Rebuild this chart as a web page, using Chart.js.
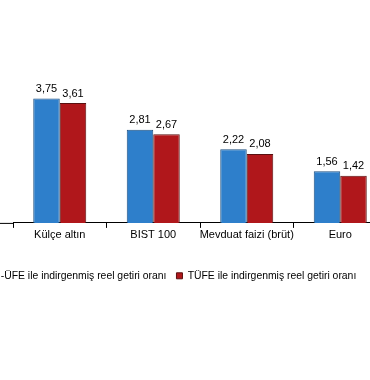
<!DOCTYPE html>
<html>
<head>
<meta charset="utf-8">
<script src="https://cdn.jsdelivr.net/npm/chart.js@4"></script>
<style>
  html, body { margin: 0; padding: 0; background: #fff; overflow: hidden; width: 370px; height: 380px; }
  #wrap { position: absolute; left: -51px; top: 0; width: 438px; height: 380px; }
</style>
</head>
<body>
<div id="wrap"><canvas id="returnsChart"></canvas></div>
<script>
  const categories = ['Külçe altın', 'BIST 100', 'Mevduat faizi (brüt)', 'Euro'];
  const ufeValues = [3.75, 2.81, 2.22, 1.56];
  const tufeValues = [3.61, 2.67, 2.08, 1.42];
  const seriesNames = ['Yİ-ÜFE ile indirgenmiş reel getiri oranı', 'TÜFE ile indirgenmiş reel getiri oranı'];

  const fontFamily = '"Liberation Sans", Arial, sans-serif';

  // value labels above the bars, turkish decimal comma
  const barLabels = {
    id: 'barLabels',
    afterDatasetsDraw(chart) {
      const ctx = chart.ctx;
      ctx.save();
      ctx.font = '11px ' + fontFamily;
      ctx.fillStyle = '#000';
      ctx.textAlign = 'center';
      ctx.textBaseline = 'bottom';
      chart.data.datasets.forEach((ds, i) => {
        chart.getDatasetMeta(i).data.forEach((bar, j) => {
          ctx.fillText(ds.data[j].toFixed(2).replace('.', ','), bar.x, bar.y - 4);
        });
      });
      ctx.restore();
    }
  };

  // axis line keeps going to the left edge
  const baseLine = {
    id: 'baseLine',
    afterDraw(chart) {
      const ctx = chart.ctx;
      const y = chart.chartArea.bottom + 0.5;
      ctx.save();
      ctx.strokeStyle = '#000';
      ctx.lineWidth = 1;
      ctx.beginPath();
      ctx.moveTo(0, y);
      ctx.lineTo(chart.chartArea.left, y);
      ctx.stroke();
      ctx.restore();
    }
  };

  Chart.defaults.font.family = fontFamily;
  Chart.defaults.font.size = 11;
  Chart.defaults.color = '#000';

  new Chart(document.getElementById('returnsChart'), {
    type: 'bar',
    data: {
      labels: categories,
      datasets: [
        {
          label: seriesNames[0],
          data: ufeValues,
          backgroundColor: '#2e7fcb',
          borderColor: '#1d4f80',
          borderWidth: 1
        },
        {
          label: seriesNames[1],
          data: tufeValues,
          backgroundColor: '#b0171b',
          borderColor: '#5a1010',
          borderWidth: 1
        }
      ]
    },
    options: {
      responsive: true,
      maintainAspectRatio: false,
      animation: false,
      datasets: {
        bar: { categoryPercentage: 0.567, barPercentage: 1 }
      },
      layout: { padding: { top: 57, bottom: 89 } },
      plugins: {
        legend: {
          position: 'bottom',
          labels: { boxWidth: 6, boxHeight: 6, padding: 10, color: '#000', font: { size: 10.4 } }
        },
        tooltip: { enabled: false }
      },
      scales: {
        x: {
          grid: { drawOnChartArea: false, tickLength: 5, color: '#000' },
          border: { color: '#000' },
          ticks: { color: '#000', padding: 0, maxRotation: 0, autoSkip: false },
          afterFit: (s) => { s.height += 19.5; }
        },
        y: {
          min: 0,
          max: 5,
          grid: { display: false },
          border: { display: false },
          ticks: { display: false },
          afterFit: (s) => { s.width = 64; }
        }
      }
    },
    plugins: [barLabels, baseLine]
  });
</script>
</body>
</html>
